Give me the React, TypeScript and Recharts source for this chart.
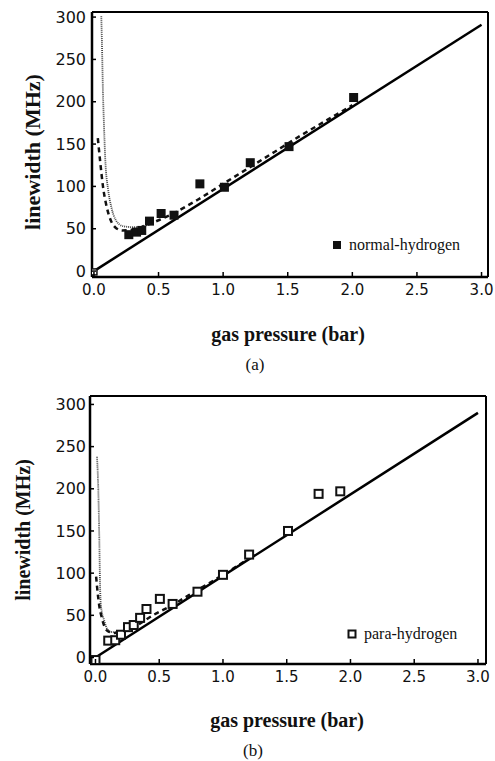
import { ComposedChart, Line, Scatter, XAxis, YAxis, ReferenceLine } from 'recharts'

// panel (a): normal hydrogen
const normalP = [0.27, 0.33, 0.37, 0.43, 0.52, 0.62, 0.82, 1.01, 1.21, 1.51, 2.01]
const normalW = [43, 46, 48, 59, 68, 66, 103, 99, 128, 147, 205]
const originP = [0]
const originW = [-1]
const fitAP = [0, 3.0]
const fitAW = [0, 291]
const dashAP = [0.03, 0.05, 0.07, 0.1, 0.13, 0.17, 0.22, 0.3, 0.4, 0.5, 0.6, 0.8, 1.0, 1.2, 1.4, 1.6, 1.8, 2.0]
const dashAW = [157, 127, 100, 75, 60, 51, 48, 49, 54, 60, 67, 84, 103, 122, 141, 160, 178, 196]
const dotAP = [0.057, 0.062, 0.07, 0.078, 0.088, 0.11, 0.134, 0.17, 0.225, 0.29, 0.35, 0.42]
const dotAW = [301, 269, 210, 171, 131, 96, 76, 60, 53, 52, 52, 55]

// panel (b): para hydrogen
const paraP = [0, 0.1, 0.155, 0.2, 0.255, 0.3, 0.35, 0.4, 0.505, 0.605, 0.8, 1.0, 1.205, 1.51, 1.75, 1.92]
const paraW = [-3, 20, 20.5, 27, 36, 38.5, 47, 57.5, 69.5, 63.5, 78, 98, 122, 150, 194, 197]
const fitBP = [0, 3.0]
const fitBW = [0, 290]
const dashBP = [0.005, 0.017, 0.03, 0.05, 0.07, 0.1, 0.15, 0.2, 0.3, 0.45, 0.6, 0.8, 1.0, 1.2]
const dashBW = [96, 77, 61, 47, 37, 31, 29, 30, 36, 50, 62, 80, 98, 117]
const dotBP = [0.012, 0.022, 0.03, 0.035, 0.043, 0.07, 0.095, 0.135, 0.2, 0.3]
const dotBW = [238, 199, 140, 92, 61, 43, 33, 30, 30, 36]

const xTicks = [0, 0.5, 1, 1.5, 2, 2.5, 3]
const yTicks = [0, 50, 100, 150, 200, 250, 300]

const zip = (xs: number[], ys: number[]) => xs.map((x, i) => ({ x, y: ys[i] }))

const serif = '"Liberation Serif", "Times New Roman", serif'
const sans = '"DejaVu Sans", Verdana, sans-serif'

const XTick = (props: any) => {
  const { x, y, payload, m } = props
  return (
    <g>
      <line x1={x} y1={y - m} x2={x} y2={y - m - 5} stroke="#000" strokeWidth={1.5} />
      <text x={x} y={y} dy="0.71em" textAnchor="middle" fontFamily={sans} fontSize={15} fill="#111">
        {payload.value.toFixed(1)}
      </text>
    </g>
  )
}

const YTick = (props: any) => {
  const { x, y, payload, m } = props
  return (
    <g>
      <line x1={x + m} y1={y} x2={x + m + 4} y2={y} stroke="#000" strokeWidth={1.5} />
      <text x={x} y={y} dy="0.355em" textAnchor="end" fontFamily={sans} fontSize={16} fill="#111">
        {payload.value}
      </text>
    </g>
  )
}

const filledSquare = (p: any) => <rect x={p.cx - 4.5} y={p.cy - 4.5} width={9} height={9} fill="#111" />
const openSquare = (p: any) => (
  <rect x={p.cx - 4} y={p.cy - 4} width={8} height={8} fill="#fff" stroke="#111" strokeWidth={2} />
)
const smallOpen = (p: any) => (
  <rect x={p.cx - 3} y={p.cy - 3} width={6} height={6} fill="#fff" stroke="#111" strokeWidth={1.5} />
)

type Pt = { x: number; y: number }

type PanelProps = {
  top: number
  height: number
  margin: { top: number; right: number; left: number; bottom: number }
  xDomain: [number, number]
  yDomain: [number, number]
  yTickMargin: number
  points: Pt[]
  extra?: Pt[]
  fit: Pt[]
  dash: Pt[]
  dot: Pt[]
  shape: (p: any) => React.ReactElement
}

const Panel = (p: PanelProps) => (
  <div style={{ position: 'absolute', left: 0, top: p.top }}>
    <ComposedChart width={495} height={p.height} margin={p.margin}>
      <XAxis
        type="number"
        dataKey="x"
        domain={p.xDomain}
        ticks={xTicks}
        height={30}
        tickSize={0}
        tickMargin={7}
        tickLine={false}
        axisLine={{ stroke: '#000', strokeWidth: 2.5 }}
        allowDataOverflow
        tick={(t: any) => <XTick {...t} m={7} />}
      />
      <YAxis
        type="number"
        dataKey="y"
        domain={p.yDomain}
        ticks={yTicks}
        width={60}
        tickSize={0}
        tickMargin={p.yTickMargin}
        tickLine={false}
        axisLine={{ stroke: '#000', strokeWidth: 2.5 }}
        allowDataOverflow
        tick={(t: any) => <YTick {...t} m={p.yTickMargin} />}
      />
      <ReferenceLine y={p.yDomain[1]} stroke="#000" strokeWidth={2} />
      <ReferenceLine x={p.xDomain[1]} stroke="#000" strokeWidth={2} />
      <Line data={p.dot} dataKey="y" type="monotone" stroke="#444" strokeWidth={1.8} strokeDasharray="1 1" dot={false} activeDot={false} isAnimationActive={false} />
      <Line data={p.dash} dataKey="y" type="monotone" stroke="#111" strokeWidth={2.5} strokeDasharray="5 4" dot={false} activeDot={false} isAnimationActive={false} />
      <Line data={p.fit} dataKey="y" type="linear" stroke="#000" strokeWidth={2.5} dot={false} activeDot={false} isAnimationActive={false} />
      {p.extra && <Scatter data={p.extra} dataKey="y" shape={smallOpen} isAnimationActive={false} />}
      <Scatter data={p.points} dataKey="y" shape={p.shape} isAnimationActive={false} />
    </ComposedChart>
  </div>
)

const Text = ({ x, y, size, bold, rotate, children }: any) => (
  <div
    style={{
      position: 'absolute',
      left: x,
      top: y,
      transform: `translate(-50%, -50%)${rotate ? ' rotate(-90deg)' : ''}`,
      fontFamily: serif,
      fontSize: size,
      fontWeight: bold ? 'bold' : 'normal',
      whiteSpace: 'nowrap',
      color: '#111',
      lineHeight: 1,
    }}
  >
    {children}
  </div>
)

const LegendItem = ({ x, y, filled, label }: any) => (
  <div style={{ position: 'absolute', left: x, top: y, display: 'flex', alignItems: 'center', fontFamily: serif, fontSize: 16, color: '#111', whiteSpace: 'nowrap' }}>
    <svg width={10} height={10} style={{ marginRight: 7 }}>
      {filled ? (
        <rect x={1} y={1} width={8} height={8} fill="#111" />
      ) : (
        <rect x={1.5} y={1.5} width={7} height={7} fill="#fff" stroke="#111" strokeWidth={2} />
      )}
    </svg>
    {label}
  </div>
)

export default function App() {
  return (
    <div style={{ position: 'absolute', left: 0, top: 0, width: 495, height: 761, background: '#fff' }}>
      <Panel
        top={0}
        height={380}
        margin={{ top: 12, right: 7, left: 32, bottom: 73 }}
        xDomain={[-0.015, 3.05]}
        yDomain={[-7, 306]}
        yTickMargin={6}
        points={zip(normalP, normalW)}
        extra={zip(originP, originW)}
        fit={zip(fitAP, fitAW)}
        dash={zip(dashAP, dashAW)}
        dot={zip(dotAP, dotAW)}
        shape={filledSquare}
      />
      <Panel
        top={385}
        height={376}
        margin={{ top: 11, right: 9, left: 30, bottom: 67 }}
        xDomain={[-0.043, 3.063]}
        yDomain={[-7.7, 310]}
        yTickMargin={4}
        points={zip(paraP, paraW)}
        fit={zip(fitBP, fitBW)}
        dash={zip(dashBP, dashBW)}
        dot={zip(dotBP, dotBW)}
        shape={openSquare}
      />
      <Text x={33} y={152} size={22} bold rotate>linewidth (MHz)</Text>
      <Text x={288} y={334} size={20} bold>gas pressure (bar)</Text>
      <Text x={255} y={364} size={17}>(a)</Text>
      <LegendItem x={332} y={236} filled label="normal-hydrogen" />
      <Text x={23} y={530} size={20} bold rotate>linewidth (MHz)</Text>
      <Text x={287} y={720} size={20} bold>gas pressure (bar)</Text>
      <Text x={253} y={750} size={17}>(b)</Text>
      <LegendItem x={347} y={625} label="para-hydrogen" />
    </div>
  )
}
